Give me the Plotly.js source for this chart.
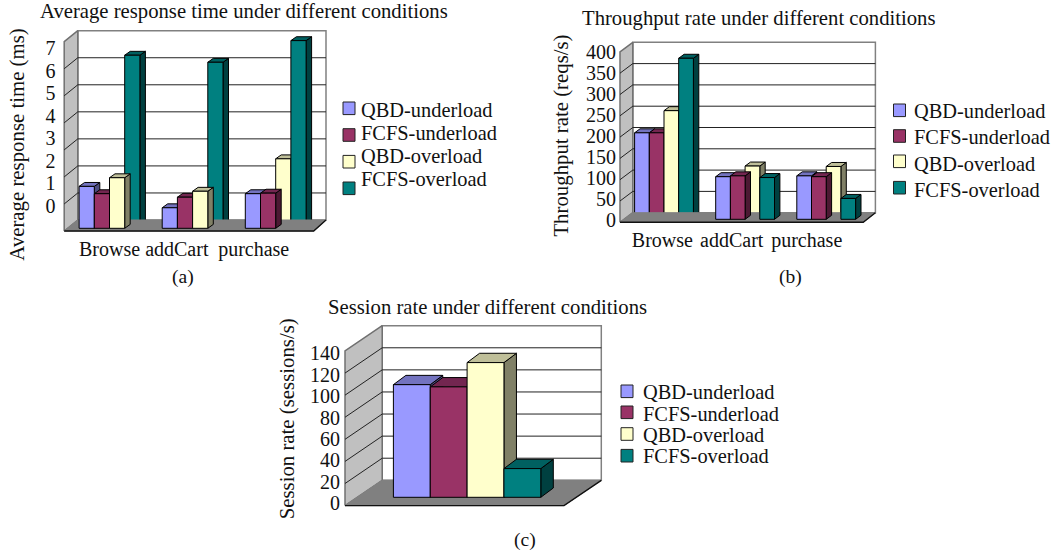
<!DOCTYPE html>
<html>
<head>
<meta charset="utf-8">
<script src="https://cdn.plot.ly/plotly-3.0.1.min.js"></script>
<style>html,body{margin:0;padding:0;background:#fff}#chart{width:1062px;height:554px}</style>
</head>
<body>
<div id="chart"></div>
<script>
// ---- data ----
const seriesNames = ['QBD-underload', 'FCFS-underload', 'QBD-overload', 'FCFS-overload'];

const categoriesA = ['Browse', 'addCart', 'purchase'];
const qbdUnderA  = [1.55, 0.76, 1.28];
const fcfsUnderA = [1.28, 1.15, 1.30];
const qbdOverA   = [1.87, 1.37, 2.57];
const fcfsOverA  = [6.40, 6.14, 6.94];

const categoriesB = ['Browse', 'addCart', 'purchase'];
const qbdUnderB  = [203, 100, 102];
const fcfsUnderB = [203, 102, 100];
const qbdOverB   = [255, 125, 124];
const fcfsOverB  = [378,  98,  49];

const categoriesC = [''];
const qbdUnderC  = [102];
const fcfsUnderC = [100];
const qbdOverC   = [122];
const fcfsOverC  = [26];

const ticksA = [0, 1, 2, 3, 4, 5, 6, 7];
const ticksB = [0, 50, 100, 150, 200, 250, 300, 350, 400];
const ticksC = [0, 20, 40, 60, 80, 100, 120, 140];

// ---- styles ----
const W = 1062, H = 554;
const FONT = 'Liberation Serif';
const FS = 20;
const frontColor = ['#9999FF', '#993366', '#FFFFCC', '#008080'];
const topColor   = ['#7373BF', '#732650', '#BFBF99', '#006060'];
const sideColor  = ['#4D4D80', '#4C1933', '#808066', '#004040'];

const charts = [
  { id: 0, cats: categoriesA, series: [qbdUnderA, fcfsUnderA, qbdOverA, fcfsOverA], ticks: ticksA,
    title: 'Average response time under different conditions', yTitle: 'Average response time (ms)', caption: '(a)',
    frontL: 64.2, frontR: 313.7, backL: 77.8, backR: 326, floorY: 231, backY: 220, topBackY: 30.7,
    baseY: 228.3, groupC: 109.5, groupStep: 83.1, barW: 15.2, depthX: 5.5, depthY: 3.9,
    behind: (g, s) => s === 3 || (s === 2 && g === 2),
    labelZero: 206, labelTop: 48.3, labelTopVal: 7, labelRight: 55.5, labelDomain: [29, 260], yTitleStandoff: 14,
    xTickPos: [0, 0.81, 1.735], xTickStandoff: 1,
    titleX: 38, titleY: 11.7, capX: 182.6, capY: 276.7,
    swX: 349, swY: [108.3, 135, 161.7, 188.3], txtX: 358.5, txtY: [109.7, 132.7, 155.7, 178.7] },
  { id: 1, cats: categoriesB, series: [qbdUnderB, fcfsUnderB, qbdOverB, fcfsOverB], ticks: ticksB,
    title: 'Throughput rate under different conditions', yTitle: 'Throughput rate (reqs/s)', caption: '(b)',
    frontL: 620, frontR: 863.2, backL: 632.8, backR: 875.4, floorY: 222.3, backY: 212.7, topBackY: 42.3,
    baseY: 219.3, groupC: 664, groupStep: 81.1, barW: 14.7, depthX: 5.4, depthY: 4,
    behind: (g, s) => g === 0 || s === 2,
    labelZero: 220, labelTop: 51.7, labelTopVal: 400, labelRight: 616, labelDomain: [35, 236], yTitleStandoff: 10,
    xTickPos: [-0.02, 0.835, 1.76], xTickStandoff: 1,
    titleX: 579.5, titleY: 18.3, capX: 790, capY: 276.7,
    swX: 899.5, swY: [110.3, 136, 161.3, 187.7], txtX: 912, txtY: [110.7, 137.3, 163.7, 190.3] },
  { id: 2, cats: categoriesC, series: [qbdUnderC, fcfsUnderC, qbdOverC, fcfsOverC], ticks: ticksC,
    title: 'Session rate under different conditions', yTitle: 'Session rate (sessions/s)', caption: '(c)',
    frontL: 345, frontR: 564, backL: 382.2, backR: 601.3, floorY: 505.6, backY: 480.3, topBackY: 325.7,
    baseY: 497.3, groupC: 467.1, groupStep: 100, barW: 36.85, depthX: 12.5, depthY: 9.3,
    behind: () => false,
    labelZero: 503.3, labelTop: 353.3, labelTopVal: 140, labelRight: 340, labelDomain: [318.8, 518.8], yTitleStandoff: 8,
    xTickPos: [], xTickStandoff: 0,
    titleX: 326, titleY: 306.7, capX: 525, capY: 540,
    swX: 627, swY: [391.3, 412.3, 434, 455.7], txtX: 640.5, txtY: [392.3, 413.7, 435, 456] }
];

const traces = [];
const layout = {
  width: W, height: H, margin: { l: 0, r: 0, t: 0, b: 0 },
  paper_bgcolor: '#ffffff', plot_bgcolor: 'rgba(0,0,0,0)',
  showlegend: false, hovermode: false, barmode: 'overlay',
  font: { family: FONT, size: FS, color: '#111' },
  annotations: [], shapes: []
};
const px = (x) => x / W;
const py = (y) => 1 - y / H;
const axisKey = (n) => (n === 1 ? '' : String(n));

charts.forEach((c) => {
  const xN = c.id + 1;
  const yBase = c.id * 4 + 1;               // wall layer, back-bar layer, front-bar layer, label axis
  const xId = 'x' + axisKey(xN);
  const yIds = [0, 1, 2, 3].map((k) => 'y' + axisKey(yBase + k));

  const pad = 3;
  const leftPx = c.frontL - pad, rightPx = c.backR + pad;
  const topPx = c.topBackY - pad, botPx = c.floorY + pad;
  const unit = (c.backY - c.topBackY) / (c.ticks[c.ticks.length - 1] - c.ticks[0]);
  const toX = (p) => (p - c.groupC) / c.groupStep;
  const toV = (p) => (c.baseY - p) / unit;
  const xRange = [toX(leftPx), toX(rightPx)];
  const vRange = [toV(botPx), toV(topPx)];
  const domX = [px(leftPx), px(rightPx)];
  const domY = [py(botPx), py(topPx)];

  layout['xaxis' + axisKey(xN)] = {
    domain: domX, range: xRange, anchor: yIds[0], fixedrange: true,
    showgrid: false, zeroline: false, showline: false, ticks: '',
    tickmode: 'array', tickvals: c.xTickPos, ticktext: c.cats.slice(0, c.xTickPos.length),
    ticklabelstandoff: c.xTickStandoff, tickfont: { family: FONT, size: FS, color: '#111' }
  };
  yIds.slice(0, 3).forEach((yid, k) => {
    const ax = {
      range: vRange, anchor: xId, fixedrange: true, showgrid: false, zeroline: false,
      showline: false, ticks: '', showticklabels: false
    };
    if (k === 0) ax.domain = domY; else ax.overlaying = yIds[0];
    layout['yaxis' + axisKey(yBase + k)] = ax;
  });
  // printed tick labels sit on their own axis: they do not line up with the wall in the source
  const labelScale = (c.labelZero - c.labelTop) / c.labelTopVal;
  layout['yaxis' + axisKey(yBase + 3)] = {
    domain: [py(c.labelDomain[1]), py(c.labelDomain[0])],
    range: [(c.labelZero - c.labelDomain[1]) / labelScale, (c.labelZero - c.labelDomain[0]) / labelScale],
    anchor: 'free', position: px(c.labelRight), side: 'left', fixedrange: true,
    showgrid: false, zeroline: false, showline: false, ticks: '',
    tickmode: 'array', tickvals: c.ticks, ticktext: c.ticks.map(String),
    tickfont: { family: FONT, size: FS, color: '#111' },
    title: { text: c.yTitle, font: { family: FONT, size: 20.8, color: '#111' }, standoff: c.yTitleStandoff }
  };
  traces.push({ type: 'scatter', mode: 'none', x: [null], y: [null], xaxis: xId, yaxis: yIds[3], showlegend: false, hoverinfo: 'skip' });

  const poly = (points, fill, line, lw, yid) => traces.push({
    type: 'scatter', mode: 'lines', fill: 'toself', fillcolor: fill,
    x: points.map((p) => toX(p[0])), y: points.map((p) => toV(p[1])),
    line: { color: line, width: lw }, xaxis: xId, yaxis: yid, showlegend: false, hoverinfo: 'skip'
  });
  // back wall and side wall
  poly([[c.backL, c.backY], [c.backR, c.backY], [c.backR, c.topBackY], [c.backL, c.topBackY], [c.backL, c.backY]], '#ffffff', '#808080', 1.5, yIds[0]);
  const frontTop = c.topBackY + (c.floorY - c.backY);
  poly([[c.frontL, c.floorY], [c.backL, c.backY], [c.backL, c.topBackY], [c.frontL, frontTop], [c.frontL, c.floorY]], '#C0C0C0', '#707070', 1.5, yIds[0]);

  // gridlines across back wall and side wall for every tick
  const gx = [], gy = [];
  c.ticks.slice(1, -1).forEach((t) => {
    const yb = c.backY - t * unit, yf = c.floorY - t * unit;
    gx.push(toX(c.frontL), toX(c.backL), toX(c.backR), null);
    gy.push(toV(yf), toV(yb), toV(yb), null);
  });
  traces.push({ type: 'scatter', mode: 'lines', x: gx, y: gy, line: { color: '#222', width: 1 }, xaxis: xId, yaxis: yIds[0], showlegend: false, hoverinfo: 'skip', connectgaps: false });

  const dX = c.depthX / c.groupStep, dV = c.depthY / unit, w = c.barW / c.groupStep;
  const barX = (g, s) => g + (s - 1.5) * w;
  const faces = (g, s, yid) => {
    const v = c.series[s][g], l = barX(g, s) - w / 2, r = barX(g, s) + w / 2;
    const f = (xs, ys, fill) => traces.push({
      type: 'scatter', mode: 'lines', fill: 'toself', fillcolor: fill, x: xs, y: ys,
      line: { color: '#000', width: 1 }, xaxis: xId, yaxis: yid, showlegend: false, hoverinfo: 'skip'
    });
    f([r, r + dX, r + dX, r, r], [0, dV, v + dV, v, 0], sideColor[s]);
    f([l, r, r + dX, l + dX, l], [v, v, v + dV, v + dV, v], topColor[s]);
  };
  const eachBar = (want, fn) => c.cats.forEach((_, g) => seriesNames.forEach((_, s) => { if (c.behind(g, s) === want) fn(g, s); }));

  // layer 1: side and top faces of the bars the floor overlaps
  eachBar(true, (g, s) => faces(g, s, yIds[0]));
  // layer 2: fronts of those bars, then the floor, then side and top faces of the other bars
  const bars = (want, yid) => seriesNames.forEach((name, s) => {
    const gs = c.cats.map((_, g) => g).filter((g) => c.behind(g, s) === want);
    if (!gs.length) return;
    traces.push({
      type: 'bar', name, x: gs.map((g) => barX(g, s)), y: gs.map((g) => c.series[s][g]), width: w,
      marker: { color: frontColor[s], line: { color: '#000', width: 1 } },
      xaxis: xId, yaxis: yid, showlegend: false, hoverinfo: 'skip'
    });
  });
  bars(true, yIds[1]);
  poly([[c.frontL, c.floorY], [c.frontR, c.floorY], [c.backR, c.backY], [c.backL, c.backY], [c.frontL, c.floorY]], '#808080', '#808080', 1, yIds[1]);
  traces.push({ type: 'scatter', mode: 'lines', x: [toX(c.frontL), toX(c.frontR), toX(c.backR)], y: [toV(c.floorY), toV(c.floorY), toV(c.backY)], line: { color: '#111', width: 1.4 }, xaxis: xId, yaxis: yIds[1], showlegend: false, hoverinfo: 'skip' });
  eachBar(false, (g, s) => faces(g, s, yIds[1]));
  // layer 3: fronts of the bars standing on the floor
  bars(false, yIds[2]);

  // texts
  const note = (text, x, y, xanchor, size) => layout.annotations.push({
    text, xref: 'paper', yref: 'paper', x: px(x), y: py(y), xanchor, yanchor: 'middle', showarrow: false,
    font: { family: FONT, size, color: '#111' }
  });
  note(c.title, c.titleX, c.titleY, 'left', 20.7);
  note(c.caption, c.capX, c.capY, 'center', 19.5);
  // legend
  seriesNames.forEach((name, s) => {
    note(name, c.txtX, c.txtY[s], 'left', 20.4);
    layout.shapes.push({
      type: 'rect', xref: 'paper', yref: 'paper',
      x0: px(c.swX - 6), x1: px(c.swX + 6), y0: py(c.swY[s] + 6.3), y1: py(c.swY[s] - 6.3),
      fillcolor: frontColor[s], line: { color: '#222', width: 1 }
    });
  });
});

Plotly.newPlot('chart', traces, layout, { staticPlot: true, displayModeBar: false });
</script>
</body>
</html>
